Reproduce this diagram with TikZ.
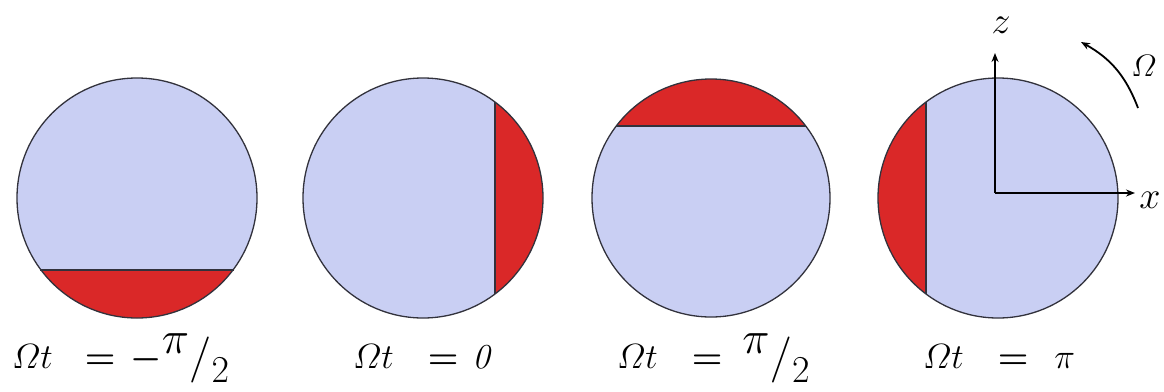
\RequirePackage{fix-cm}
\documentclass[tikz,border=0pt]{standalone}
\usepackage{amsmath}
\usetikzlibrary{arrows.meta}
\definecolor{discblue}{RGB}{201,207,243}
\definecolor{capred}{RGB}{218,40,40}
\definecolor{rim}{RGB}{50,50,60}
\tikzset{
  disc/.style={fill=discblue},
  rimline/.style={draw=rim, line width=1.3pt},
  capfill/.style={fill=capred},
  axis/.style={line width=1.8pt, -{Stealth[length=9pt,width=7pt]}},
  lab/.style={anchor=base west, inner sep=0pt, font=\fontsize{35}{40}\selectfont},
  axlab/.style={inner sep=0pt, font=\fontsize{38}{40}\selectfont}
}
\newcommand{\halfpi}{\raisebox{15pt}{\fontsize{46}{46}\selectfont$\pi$}\raisebox{-3pt}{\fontsize{46}{46}\selectfont$/$}\raisebox{-14pt}{\fontsize{38}{38}\selectfont$2$}}
\newcommand{\beq}{{\boldmath$=$}}
\newcommand{\bmin}{{\boldmath$-$}}
\begin{document}
\begin{tikzpicture}[x=1pt,y=-1pt]
\useasboundingbox (0,0) rectangle (1164,391);
% circle 1: cap at bottom
\coordinate (c1) at (137,198);
\fill[disc] (c1) circle (120);
\begin{scope}\clip (c1) circle (120);
  \fill[capfill] (0,270) rectangle (300,330);
\end{scope}
\path (c1) ++(-97,72) coordinate (a1) (c1) ++(97,72) coordinate (b1);
\draw[rimline] (a1) -- (b1);
\draw[rimline] (c1) circle (120);
% circle 2: cap at right
\coordinate (c2) at (423,198);
\fill[disc] (c2) circle (120);
\begin{scope}\clip (c2) circle (120);
  \fill[capfill] (495,60) rectangle (560,330);
\end{scope}
\path (c2) ++(72,-96) coordinate (a2) (c2) ++(72,96) coordinate (b2);
\draw[rimline] (a2) -- (b2);
\draw[rimline] (c2) circle (120);
% circle 3: cap at top
\coordinate (c3) at (711,198);
\fill[disc] (c3) circle (119);
\begin{scope}\clip (c3) circle (119);
  \fill[capfill] (580,60) rectangle (840,126);
\end{scope}
\path (c3) ++(-95,-72) coordinate (a3) (c3) ++(95,-72) coordinate (b3);
\draw[rimline] (a3) -- (b3);
\draw[rimline] (c3) circle (119);
% circle 4: cap at left
\coordinate (c4) at (998,198);
\fill[disc] (c4) circle (120);
\begin{scope}\clip (c4) circle (120);
  \fill[capfill] (860,60) rectangle (926,330);
\end{scope}
\path (c4) ++(-72,-96) coordinate (a4) (c4) ++(-72,96) coordinate (b4);
\draw[rimline] (a4) -- (b4);
\draw[rimline] (c4) circle (120);
% axes
\coordinate (o) at (995,193);
\coordinate (zt) at (995,53);
\coordinate (xt) at (1135,193);
\draw[axis] (o) -- (zt);
\draw[axis] (o) -- (xt);
\node[axlab] (zl) at (1001,25) {$z$};
\node[axlab] (xl) at (1150,200) {$x$};
% rotation arrow
\coordinate (rs) at (1138,108);
\coordinate (re) at (1081,42);
\draw[line width=1.8pt, -{Stealth[length=9pt,width=7pt]}] (rs) to[bend right=20] (re);
\node[inner sep=0pt, font=\fontsize{31}{32}\selectfont] (om) at (1144,66) {$\varOmega$};
% labels
\node[lab] (l1) at (12,368) {$\varOmega t$\hspace{32pt}\beq\hspace{15pt}\bmin\halfpi};
\node[lab] (l2) at (353,368) {$\varOmega t$\hspace{34pt}\beq\hspace{14pt}$\mathit{0}$};
\node[lab] (l3) at (617,368) {$\varOmega t$\hspace{34pt}\beq\hspace{20pt}\halfpi};
\node[lab] (l4) at (923,368) {$\varOmega t$\hspace{34pt}\beq\hspace{26pt}$\pi$};
\end{tikzpicture}
\end{document}
